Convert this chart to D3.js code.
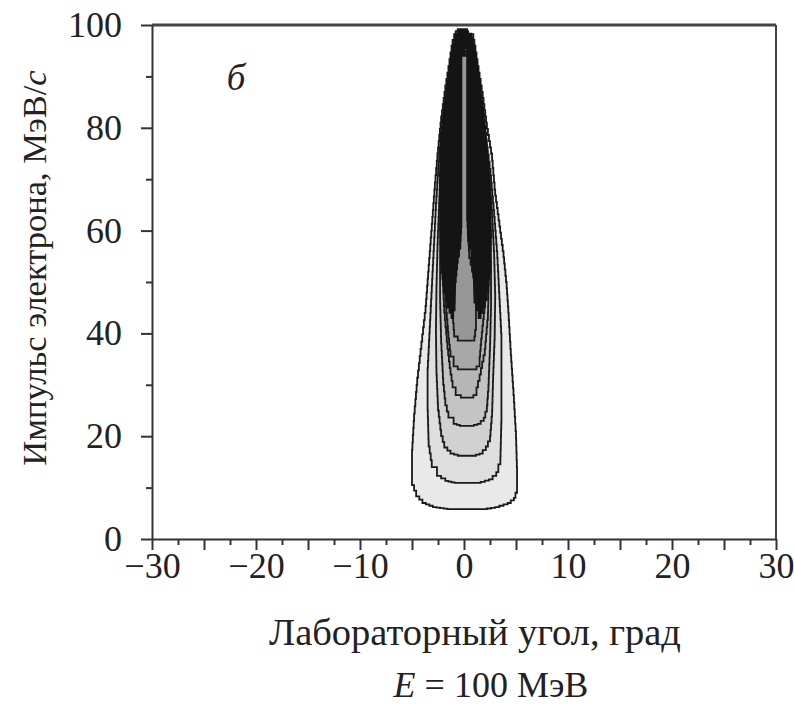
<!DOCTYPE html>
<html>
<head>
<meta charset="UTF-8">
<title>Импульс электрона</title>
<script src="https://d3js.org/d3.v7.min.js"></script>
<style>
body { margin: 0; background: #fff; }
svg text { font-family: "Liberation Serif", "DejaVu Serif", serif; fill: #222; }
</style>
</head>
<body>
<div id="chart"></div>
<script>
// axis ticks
var angleMajor = [-30, -20, -10, 0, 10, 20, 30];
var angleMid = [-25, -15, -5, 5, 15, 25];
var angleMinor = [-27.5, -22.5, -17.5, -12.5, -7.5, -2.5, 2.5, 7.5, 12.5, 17.5, 22.5, 27.5];
var momentumMajor = [0, 20, 40, 60, 80, 100];
var momentumMinor = [10, 30, 50, 70, 90];

// contour outlines, [angle deg, momentum MeV/c] (outer -> inner)
var level1 = [[-1.6,5.8],[-3.0,6.2],[-4.0,7.0],[-4.6,8.3],[-5.0,10.5],[-5.0,16],[-4.8,23],[-4.5,30],[-4.1,37],[-3.7,44],[-3.4,52],[-3.1,60],[-2.8,68],[-2.5,75],[-2.2,81],[-1.8,87],[-1.4,92],[-1.1,96],[-0.8,98.2],[-0.3,98.8],
  [0.4,98.8],[0.9,98.2],[1.1,96],[1.4,92],[1.8,87],[2.2,81],[2.7,75],[3.0,68],[3.4,62],[3.8,56],[4.1,50],[4.3,44],[4.5,37],[4.8,28],[5.0,21],[5.1,14],[5.1,10],[4.8,8],[4.2,7],[3.0,6.2],[1.8,5.8]];
var level2 = [[-0.9,10.9],[-1.8,11.3],[-2.6,12.3],[-3.1,14],[-3.4,18],[-3.5,25],[-3.5,32],[-3.3,40],[-3.1,48],[-2.9,56],[-2.7,64],[-2.45,72],[-2.15,79],[-1.8,85],[-1.4,90.5],[-1.05,95],[-0.7,97.6],[-0.25,98.3],
  [0.35,98.3],[0.8,97.6],[1.05,95],[1.35,90.5],[1.7,85],[2.1,79],[2.55,72],[2.9,64],[3.2,56],[3.4,48],[3.6,40],[3.6,32],[3.6,24],[3.5,16],[3.1,13],[2.4,11.6],[1.2,10.9]];
var level3 = [[-0.6,16.2],[-1.3,16.6],[-1.9,17.8],[-2.2,20],[-2.5,25],[-2.65,32],[-2.7,40],[-2.65,48],[-2.55,56],[-2.4,64],[-2.25,72],[-2.0,79],[-1.7,85],[-1.35,90],[-1.0,94.5],[-0.65,97.2],[-0.2,97.9],
  [0.3,97.9],[0.7,97.2],[1.0,94.5],[1.3,90],[1.6,85],[2.0,79],[2.4,72],[2.7,64],[2.9,56],[3.0,48],[2.95,40],[2.8,32],[2.7,25],[2.5,20],[2.1,18],[1.5,16.6],[0.8,16.2]];
var level4 = [[-0.4,22],[-1.0,22.4],[-1.5,23.6],[-1.8,26],[-2.0,30],[-2.2,38],[-2.3,46],[-2.3,54],[-2.25,62],[-2.15,70],[-1.95,77],[-1.65,84],[-1.3,89.5],[-0.95,94],[-0.6,97],
  [0.6,97],[0.95,94],[1.25,89.5],[1.55,84],[1.9,77],[2.25,70],[2.5,62],[2.6,54],[2.6,46],[2.5,38],[2.35,30],[2.2,26],[1.9,23.6],[1.3,22.4],[0.6,22]];
var level5 = [[-0.3,27.5],[-0.8,28],[-1.1,29.5],[-1.3,32],[-1.6,37],[-1.9,44],[-2.1,52],[-2.15,60],[-2.1,68],[-1.9,76],[-1.6,83],[-1.25,89],[-0.9,93.5],[-0.55,96.5],
  [0.55,96.5],[0.9,93.5],[1.2,89],[1.5,83],[1.85,76],[2.15,68],[2.35,60],[2.4,52],[2.3,44],[2.0,37],[1.5,32],[1.2,29.5],[0.9,28],[0.4,27.5]];
var level6 = [[-0.6,33],[-1.0,33.6],[-1.3,35.5],[-1.5,39],[-1.7,44],[-1.9,50],[-2.0,58],[-2.0,70],[-1.8,78],[-1.5,85],[-1.1,91],[-0.7,95.5],
  [0.7,95.5],[1.1,91],[1.5,85],[1.9,78],[2.2,70],[2.3,58],[2.2,50],[1.9,44],[1.65,39],[1.5,35.5],[1.2,33.6],[0.8,33]];
var level7 = [[-0.6,38.6],[-0.95,39.4],[-1.05,42],[-1.0,47],[-0.8,52],[-0.5,56],[-0.35,60],[-0.35,94],[0,96],
  [0.4,94],[0.4,60],[0.5,56],[0.9,52],[1.15,47],[1.15,42],[1.0,39.4],[0.8,38.6]];
// dense dark core around the central ridge
var core = [[-1.2,43],[-1.6,45],[-1.9,48],[-2.2,53],[-2.3,60],[-2.3,70],[-2.2,78],[-1.85,84],[-1.5,89],[-1.2,93],[-0.95,96],[-0.6,98.3],[-0.2,99.2],
  [0.3,99.2],[0.7,98.3],[1.0,96],[1.25,93],[1.55,89],[1.85,84],[2.15,78],[2.45,70],[2.6,60],[2.5,53],[2.2,48],[1.8,45],[1.4,43],
  [1.0,46],[0.95,50],[0.7,55],[0.4,58],[0.3,62],[0.3,94],[0.05,95.5],[-0.25,94],[-0.25,62],[-0.35,58],[-0.6,55],[-0.85,50],[-0.9,46]];

var levels = [level1, level2, level3, level4, level5, level6, level7];
var levelFills = ["#e9e9e9", "#dedede", "#d1d1d1", "#c4c4c4", "#b6b6b6", "#a8a8a8", "#979797"];

var width = 794, height = 706;
var serif = "'Liberation Serif', 'DejaVu Serif', serif";

var svg = d3.select("#chart").append("svg")
    .attr("width", width)
    .attr("height", height);

var x = d3.scaleLinear().domain([-30, 30]).range([152, 776]);
var y = d3.scaleLinear().domain([0, 100]).range([539, 25]);

// the original contours are drawn on a coarse grid, so outlines are stepped
function stepped(pts) {
    var out = [];
    pts.forEach(function(b, i) {
        var a = pts[(i - 1 + pts.length) % pts.length];
        var n = Math.max(1, Math.round(Math.abs(b[1] - a[1]) / 1.3), Math.round(Math.abs(b[0] - a[0]) / 0.35));
        for (var k = 1; k <= n; k++) {
            var pa = a[0] + (b[0] - a[0]) * (k - 1) / n;
            var q = [a[0] + (b[0] - a[0]) * k / n, a[1] + (b[1] - a[1]) * k / n];
            out.push([pa, q[1]]);
            out.push(q);
        }
    });
    return out;
}

var line = d3.line()
    .x(function(d) { return x(d[0]); })
    .y(function(d) { return y(d[1]); })
    .curve(d3.curveLinearClosed);

// contour fills
svg.selectAll(".level")
    .data(levels)
    .enter().append("path")
    .attr("class", "level")
    .attr("d", function(d) { return line(stepped(d)); })
    .attr("fill", function(d, i) { return levelFills[i]; })
    .attr("stroke", "#1a1a1a")
    .attr("stroke-width", 1.8);

svg.append("path")
    .datum(core)
    .attr("d", function(d) { return line(stepped(d)); })
    .attr("fill", "#141414")
    .attr("stroke", "#141414")
    .attr("stroke-width", 1.8);

// frame (top and right)
svg.append("line")
    .attr("x1", x(-30)).attr("x2", x(30))
    .attr("y1", y(100)).attr("y2", y(100))
    .attr("stroke", "#444").attr("stroke-width", 3);
svg.append("line")
    .attr("x1", x(30)).attr("x2", x(30))
    .attr("y1", y(100)).attr("y2", y(0))
    .attr("stroke", "#444").attr("stroke-width", 2);

function styleAxis(g) {
    g.attr("font-family", serif);
    g.select(".domain").attr("stroke", "#333").attr("stroke-width", 2);
    g.selectAll(".tick line").attr("stroke", "#333").attr("stroke-width", 2);
    g.selectAll("text").attr("font-size", 36);
}

// x axis
var fmt = function(d) { return d < 0 ? "\u2212" + Math.abs(d) : d; };
svg.append("g")
    .attr("transform", "translate(0," + y(0) + ")")
    .call(d3.axisBottom(x).tickValues(angleMajor).tickSize(11).tickSizeOuter(0).tickPadding(2).tickFormat(fmt))
    .call(styleAxis);
svg.append("g")
    .attr("transform", "translate(0," + y(0) + ")")
    .call(d3.axisBottom(x).tickValues(angleMid).tickSize(11).tickFormat(""))
    .call(function(g) { g.select(".domain").remove(); })
    .call(styleAxis);
svg.append("g")
    .attr("transform", "translate(0," + y(0) + ")")
    .call(d3.axisBottom(x).tickValues(angleMinor).tickSize(6).tickFormat(""))
    .call(function(g) { g.select(".domain").remove(); })
    .call(styleAxis);

// y axis
svg.append("g")
    .attr("transform", "translate(" + x(-30) + ",0)")
    .call(d3.axisLeft(y).tickValues(momentumMajor).tickSize(11).tickSizeOuter(0).tickPadding(19))
    .call(styleAxis);
svg.append("g")
    .attr("transform", "translate(" + x(-30) + ",0)")
    .call(d3.axisLeft(y).tickValues(momentumMinor).tickSize(6).tickFormat(""))
    .call(function(g) { g.select(".domain").remove(); })
    .call(styleAxis);

// axis titles
var yTitle = svg.append("text")
    .attr("transform", "translate(46,268) rotate(-90)")
    .attr("text-anchor", "middle")
    .attr("font-size", 34.5);
yTitle.append("tspan").text("Импульс электрона, МэВ/");
yTitle.append("tspan").attr("font-style", "italic").text("c");

svg.append("text")
    .attr("x", 475).attr("y", 645)
    .attr("text-anchor", "middle")
    .attr("font-size", 38.5)
    .text("Лабораторный угол, град");

var eLabel = svg.append("text")
    .attr("x", 491).attr("y", 697)
    .attr("text-anchor", "middle")
    .attr("font-size", 36);
eLabel.append("tspan").attr("font-style", "italic").text("E");
eLabel.append("tspan").text(" = 100 МэВ");

// panel letter
svg.append("text")
    .attr("x", 236).attr("y", 90)
    .attr("text-anchor", "middle")
    .attr("font-size", 37)
    .attr("font-style", "italic")
    .text("б");
</script>
</body>
</html>
